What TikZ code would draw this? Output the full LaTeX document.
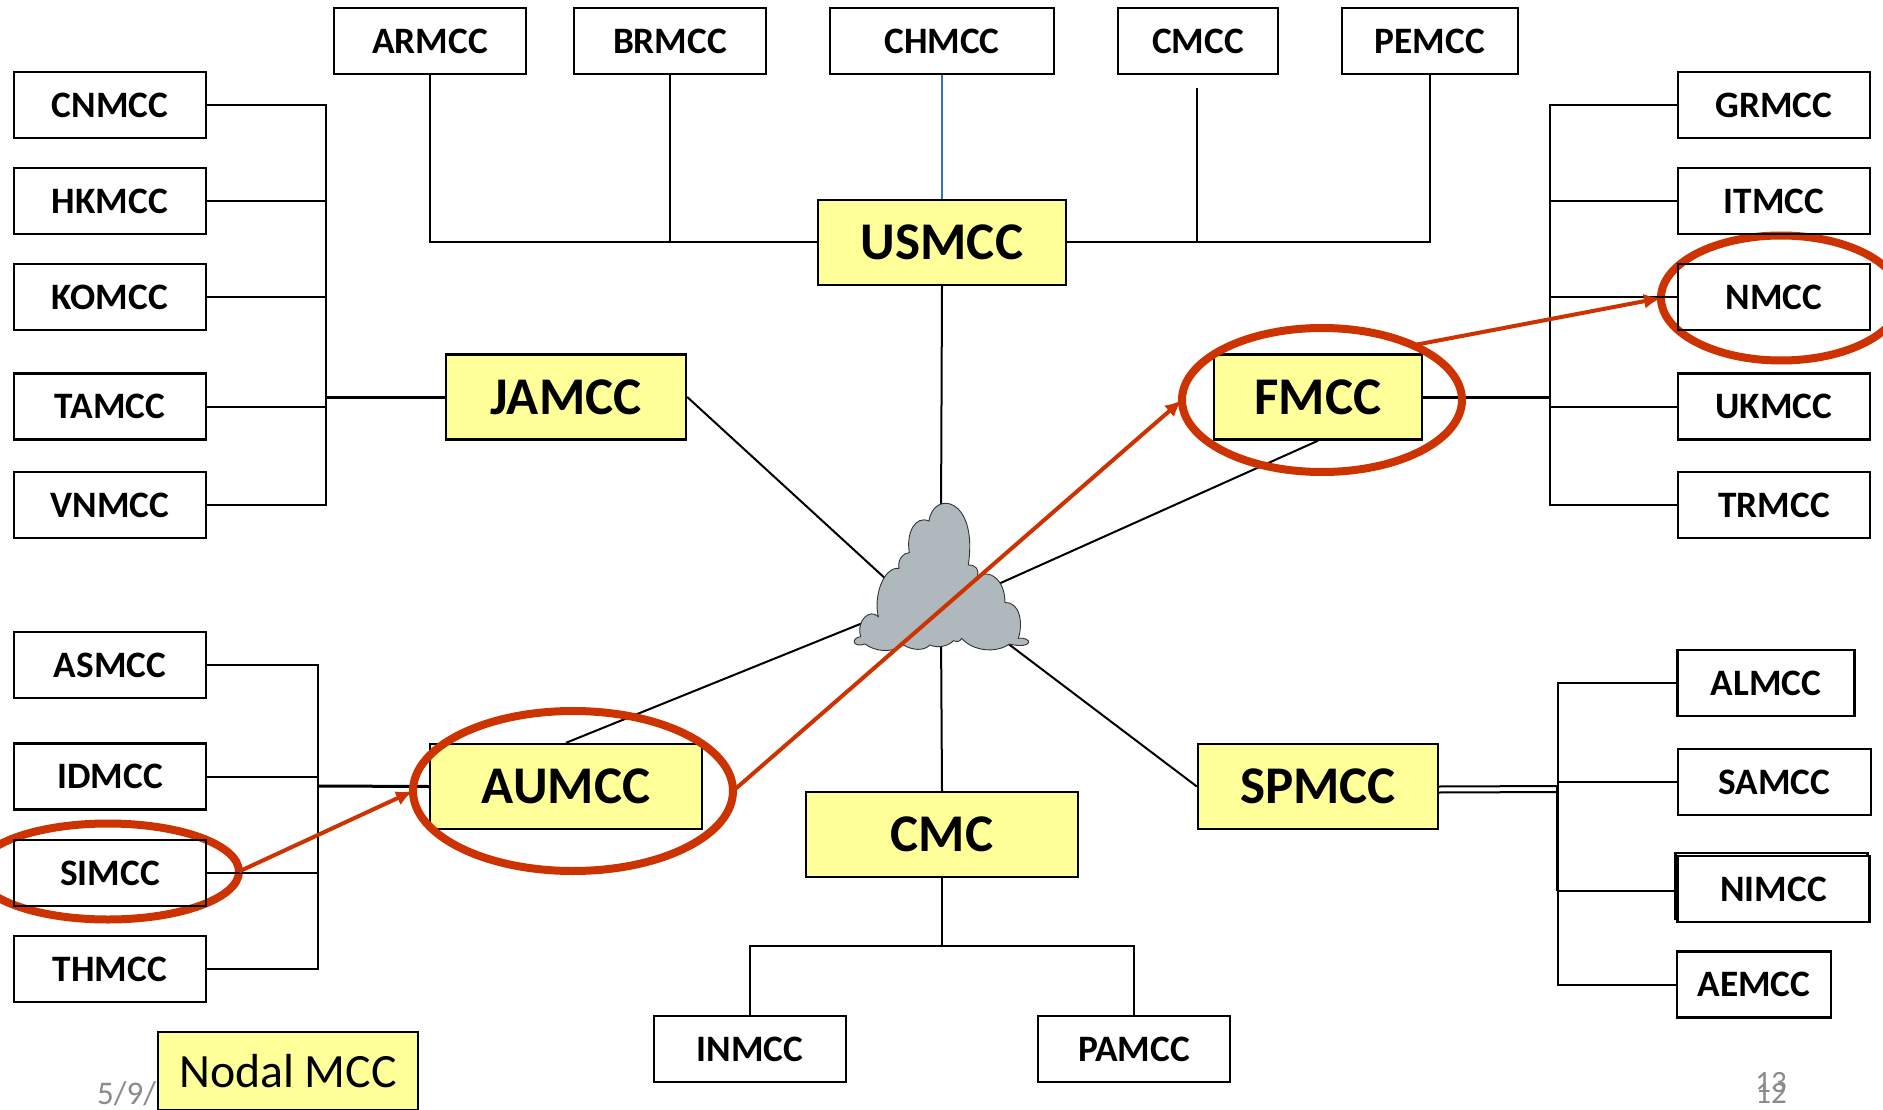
\documentclass[tikz,border=0pt]{standalone}
\usepackage{fontspec}
\setmainfont{Carlito}
\usepackage{tikz}
\usetikzlibrary{shapes.geometric, arrows.meta}
\definecolor{ringred}{HTML}{CC3300}
\definecolor{nodalyellow}{HTML}{FFFF99}
\definecolor{cloudgray}{HTML}{AFB8BC}
\definecolor{linkblue}{HTML}{2E75B6}
\definecolor{footgray}{HTML}{8B8B8B}
\begin{document}
\begin{tikzpicture}[x=1pt,y=-1pt,
    link/.style={line width=2pt},
    mainlink/.style={line width=3pt},
    mcc/.style={draw, line width=2.4pt, inner sep=0pt, minimum width=192pt, minimum height=66pt, font=\fontsize{37.3}{37.3}\selectfont\bfseries},
    nodal/.style={mcc, fill=nodalyellow, minimum height=85pt, font=\fontsize{53}{53}\selectfont\bfseries},
    ring/.style={draw=ringred, ellipse, line width=8pt, inner sep=0pt, outer sep=0pt},
    hop/.style={draw=ringred, fill=ringred, line width=4pt, -{Latex[length=17pt,width=15pt]}},
    foot/.style={text=footgray, inner sep=0pt, font=\fontsize{31}{31}\selectfont}]
  \useasboundingbox (0,0) rectangle (1883,1110);
  \fill[white] (0,0) rectangle (1883,1110);

  \node[ring, minimum width=262pt, minimum height=96pt] (ringsi) at (108,871.5) {};
  \node[ring, minimum width=240pt, minimum height=125pt] (ringnm) at (1781,298) {};

  \node[mcc] (cn) at (110,105) {CNMCC};
  \node[mcc] (hk) at (110,201) {HKMCC};
  \node[mcc] (ko) at (110,297) {KOMCC};
  \node[mcc] (ta) at (110,406.5) {TAMCC};
  \node[mcc] (vn) at (110,505) {VNMCC};
  \node[mcc] (as) at (110,665) {ASMCC};
  \node[mcc] (id) at (110,776.5) {IDMCC};
  \node[mcc] (si) at (110,873) {SIMCC};
  \node[mcc] (th) at (110,969) {THMCC};

  \node[mcc] (ar) at (430,41) {ARMCC};
  \node[mcc] (br) at (670,41) {BRMCC};
  \node[mcc, minimum width=224pt] (ch) at (942,41) {CHMCC};
  \node[mcc, minimum width=160pt] (cm) at (1198,41) {CMCC};
  \node[mcc, minimum width=176pt] (pe) at (1430,41) {PEMCC};

  \node[mcc] (gr) at (1774,105) {GRMCC};
  \node[mcc] (it) at (1774,201) {ITMCC};
  \node[mcc] (nm) at (1774,297) {NMCC};
  \node[mcc] (uk) at (1774,406.5) {UKMCC};
  \node[mcc] (tr) at (1774,505) {TRMCC};

  \node[mcc, minimum width=177pt] (al) at (1766,683) {ALMCC};
  \node[mcc, minimum width=193pt] (sa) at (1774.5,782) {SAMCC};
  \node[mcc] (niback) at (1771.5,886) {};
  \node[mcc, fill=white] (ni) at (1773.5,889) {NIMCC};
  \node[mcc, minimum width=154pt] (ae) at (1754,984.5) {AEMCC};

  \node[mcc] (in) at (750,1049) {INMCC};
  \node[mcc] (pa) at (1134,1049) {PAMCC};

  \node[nodal, minimum width=248pt] (us) at (942,242.5) {USMCC};
  \node[nodal, minimum width=240pt] (ja) at (566,397) {JAMCC};
  \node[nodal, minimum width=208pt] (fm) at (1318,397) {FMCC};
  \node[nodal, minimum width=272pt] (au) at (566,786.5) {AUMCC};
  \node[nodal, minimum width=240pt] (sp) at (1318,786.5) {SPMCC};
  \node[nodal, minimum width=272pt] (cmc) at (942,834.5) {CMC};

  \coordinate (jabus) at (326,397);
  \coordinate (aubus) at (318,786);
  \coordinate (fmbus) at (1550,397);
  \coordinate (spbus) at (1558,786);
  \coordinate (cmcbus) at (942,946);
  \coordinate (cmend) at (1197,88);
  \coordinate (cloudja) at (900,592);
  \coordinate (cloudfm) at (985,590);
  \coordinate (cloudau) at (880,616);
  \coordinate (cloudsp) at (990,630);
  \coordinate (cloudus) at (941,520);
  \coordinate (cloudcmc) at (941,630);

  \draw[link] (cn.east) -| (jabus);
  \draw[link] (vn.east) -| (jabus);
  \draw[link] (hk.east) -- (hk.east -| jabus);
  \draw[link] (ko.east) -- (ko.east -| jabus);
  \draw[link] (ta.east) -- (ta.east -| jabus);
  \draw[mainlink] (ja.west) -- (jabus);

  \draw[link] (as.east) -| (aubus);
  \draw[link] (th.east) -| (aubus);
  \draw[link] (id.east) -- (id.east -| aubus);
  \draw[link] (si.east) -- (si.east -| aubus);
  \draw[mainlink] (au.west) -- (aubus);

  \draw[link] (gr.west) -| (fmbus);
  \draw[link] (tr.west) -| (fmbus);
  \draw[link] (it.west) -- (it.west -| fmbus);
  \draw[link] (nm.west) -- (nm.west -| fmbus);
  \draw[link] (uk.west) -- (uk.west -| fmbus);
  \draw[mainlink] (fm.east) -- (fmbus);

  \draw[link] (al.west) -| (spbus);
  \draw[link] (ae.west) -| (spbus);
  \draw[link] (sa.west) -- (sa.west -| spbus);
  \draw[link] ([yshift=-5pt]niback.west) -- ([yshift=-5pt]niback.west -| spbus);
  \draw[link] (sp.east) -- (spbus);
  \draw[link] ([yshift=-6pt]sp.east) -- ([yshift=-6pt]spbus);
  \draw[mainlink] ([xshift=-1pt]spbus) -- ([xshift=-1pt,yshift=-5pt]spbus |- niback.west);

  \draw[link] (ar.south) |- (us.west);
  \draw[link] (br.south) |- (us.west);
  \draw[link] (cmend) |- (us.east);
  \draw[link] (pe.south) |- (us.east);
  \draw[line width=1.2pt, linkblue] (ch.south) -- (us.north);

  \draw[link] (in.north) |- (cmcbus);
  \draw[link] (pa.north) |- (cmcbus);
  \draw[link] (cmc.south) -- (cmcbus);

  \draw[link] (us.south) -- (cloudus);
  \draw[link] (cmc.north) -- (cloudcmc);
  \draw[link] (ja.east) -- (cloudja);
  \draw[link] (fm.south) -- (cloudfm);
  \draw[link] (au.north) -- (cloudau);
  \draw[link] (sp.west) -- (cloudsp);

  \begin{scope}[shift={(820,470)},x=0.3333pt,y=-0.3333pt]
    \draw[fill=cloudgray, line width=0.9pt, draw=black!80] (122,500)
      .. controls (108,450) and (150,415) .. (175,440)
      .. controls (160,380) and (190,290) .. (237,295)
      .. controls (232,268) and (250,248) .. (268,248)
      .. controls (258,190) and (285,135) .. (327,153)
      .. controls (340,60) and (475,80) .. (445,285)
      .. controls (470,285) and (478,300) .. (472,320)
      .. controls (510,295) and (555,330) .. (555,398)
      .. controls (600,395) and (610,460) .. (595,505)
      .. controls (640,500) and (640,540) .. (568,522)
      .. controls (530,550) and (460,545) .. (425,505)
      .. controls (418,518) and (410,515) .. (400,512)
      .. controls (385,530) and (350,535) .. (330,525)
      .. controls (310,545) and (275,540) .. (250,525)
      .. controls (215,550) and (165,545) .. (135,522)
      .. controls (100,535) and (90,505) .. (122,500) -- cycle;
  \end{scope}

  \node[foot, anchor=base west, font=\fontsize{33}{33}\selectfont] (date) at (97,1104) {5/9/};
  \node[draw, line width=2.4pt, fill=nodalyellow, inner sep=0pt, minimum width=260pt, minimum height=78pt, font=\fontsize{47.8}{47.8}\selectfont] (legend) at (288,1071) {Nodal MCC};
  \node[foot, anchor=base] (pagea) at (1771,1092) {13};
  \node[foot, anchor=base] (pageb) at (1771,1103) {12};

  \node[ring, minimum width=320pt, minimum height=160pt] (ringau) at (573,791) {};
  \node[ring, minimum width=280pt, minimum height=144pt] (ringfm) at (1322,400) {};

  \draw[hop] (ringsi.east) -- (ringau.west);
  \draw[hop] (ringau.east) -- (ringfm.west);
  \draw[hop] (ringfm.31) -- (ringnm.west);
\end{tikzpicture}
\end{document}
